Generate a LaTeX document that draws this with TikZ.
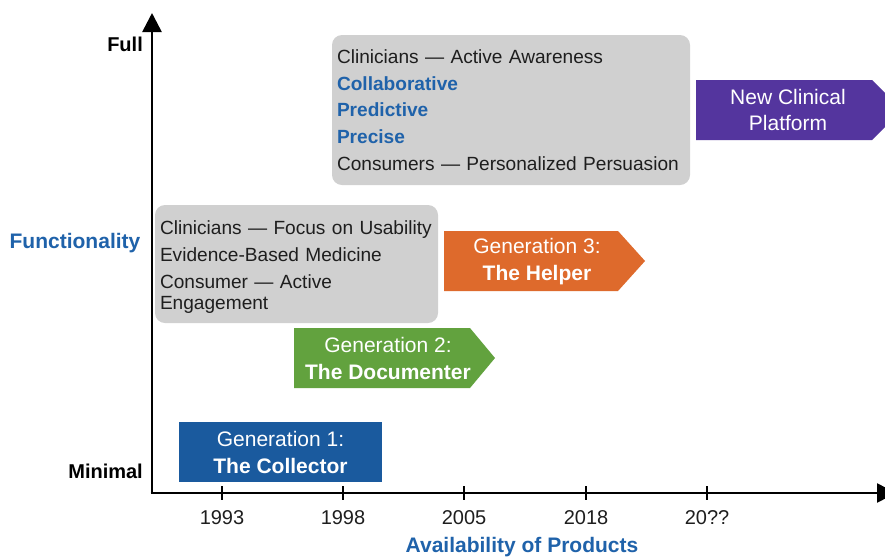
\documentclass[tikz,border=0pt]{standalone}
\usepackage{fontspec}
\setmainfont{Liberation Sans}
\usetikzlibrary{arrows.meta}
\definecolor{genblue}{HTML}{1A5A9E}
\definecolor{gengreen}{HTML}{62A23E}
\definecolor{genorange}{HTML}{DE6A2C}
\definecolor{genpurple}{HTML}{54359E}
\definecolor{boxgray}{HTML}{D0D0D0}
\definecolor{labelblue}{HTML}{1F62AA}
\definecolor{txt}{HTML}{1E1E1E}
\begin{document}
\begin{tikzpicture}[x=1pt,y=-1pt,
 axis/.style={line width=2.6pt, draw=black, -{Triangle[width=19pt,length=19pt]}},
 tickmark/.style={line width=2pt, draw=black},
 axlabel/.style={inner sep=0pt, font=\fontsize{20}{24}\selectfont\bfseries, text=black},
 year/.style={inner sep=0pt, font=\fontsize{20}{24}\selectfont, text=txt},
 bluelabel/.style={inner sep=0pt, font=\fontsize{21}{25}\selectfont\bfseries, text=labelblue},
 graybox/.style={fill=boxgray, rounded corners=10pt, inner xsep=5pt, inner ysep=0pt, align=left, text=txt, font=\fontsize{19.1}{21.5}\selectfont},
 gentext/.style={inner sep=0pt, align=center, text=white, font=\fontsize{21}{26.5}\selectfont},
]
\useasboundingbox (0,0) rectangle (885,558);
\clip (0,0) rectangle (885,558);
\fill[white] (0,0) rectangle (885,558);

% axes
\coordinate (O) at (152,493);
\coordinate (ytop) at (152,13);
\coordinate (xend) at (896,493);
\draw[axis] (O) -- (ytop);
\draw[axis] ([xshift=-1.3pt]O) -- (xend);

% ticks and years
\foreach \x/\lab/\nm in {222/1993/ya,343/1998/yb,464/2005/yc,586/2018/yd,707/20??/ye}{
  \draw[tickmark] (\x,486) -- (\x,500);
  \node[year] (\nm) at (\x,518) {\lab};
}

% axis labels
\node[axlabel, anchor=east] (full) at (143,44) {Full};
\node[axlabel, anchor=east] (minimal) at (143,471) {Minimal};
\node[bluelabel] (func) at (75,243) {Functionality};
\node[bluelabel] (avail) at (522,547.5) {Availability of Products};

% gray boxes
\node[graybox, minimum width=358pt, minimum height=150pt, text width=348pt] (gb1) at (511,110)
 {\mbox{Clinicians — Active Awareness}\\[5.25pt]
  \mbox{\bfseries\color{labelblue}Collaborative}\\[5.25pt]
  \mbox{\bfseries\color{labelblue}Predictive}\\[5.25pt]
  \mbox{\bfseries\color{labelblue}Precise}\\[5.25pt]
  \mbox{Consumers — Personalized Persuasion}};
\node[graybox, minimum width=283pt, minimum height=118pt, text width=273pt] (gb2) at (296.5,264)
 {\mbox{\rule{0pt}{20pt}Clinicians — Focus on Usability}\\[5.25pt]
  \mbox{Evidence-Based Medicine}\\[5.25pt]
  \mbox{Consumer — Active}\\
  \mbox{Engagement}};

% generation shapes
\fill[genblue] (179,422) rectangle (382,482);
\node[gentext] (g1) at (280.5,452.5) {Generation 1:\\\textbf{The Collector}};

\fill[gengreen] (294,328) -- (470,328) -- (495,358) -- (470,388) -- (294,388) -- cycle;
\node[gentext] (g2) at (388,358.5) {Generation 2:\\\textbf{The Documenter}};

\fill[genorange] (444,231) -- (618,231) -- (645,261) -- (618,291) -- (444,291) -- cycle;
\node[gentext] (g3) at (537,261.5) {Generation 3:\\\textbf{The Helper}};

\fill[genpurple] (696,80) -- (872,80) -- (902,110) -- (872,140) -- (696,140) -- cycle;
\node[gentext] (g4) at (788,110) {New Clinical\\Platform};
\end{tikzpicture}
\end{document}
